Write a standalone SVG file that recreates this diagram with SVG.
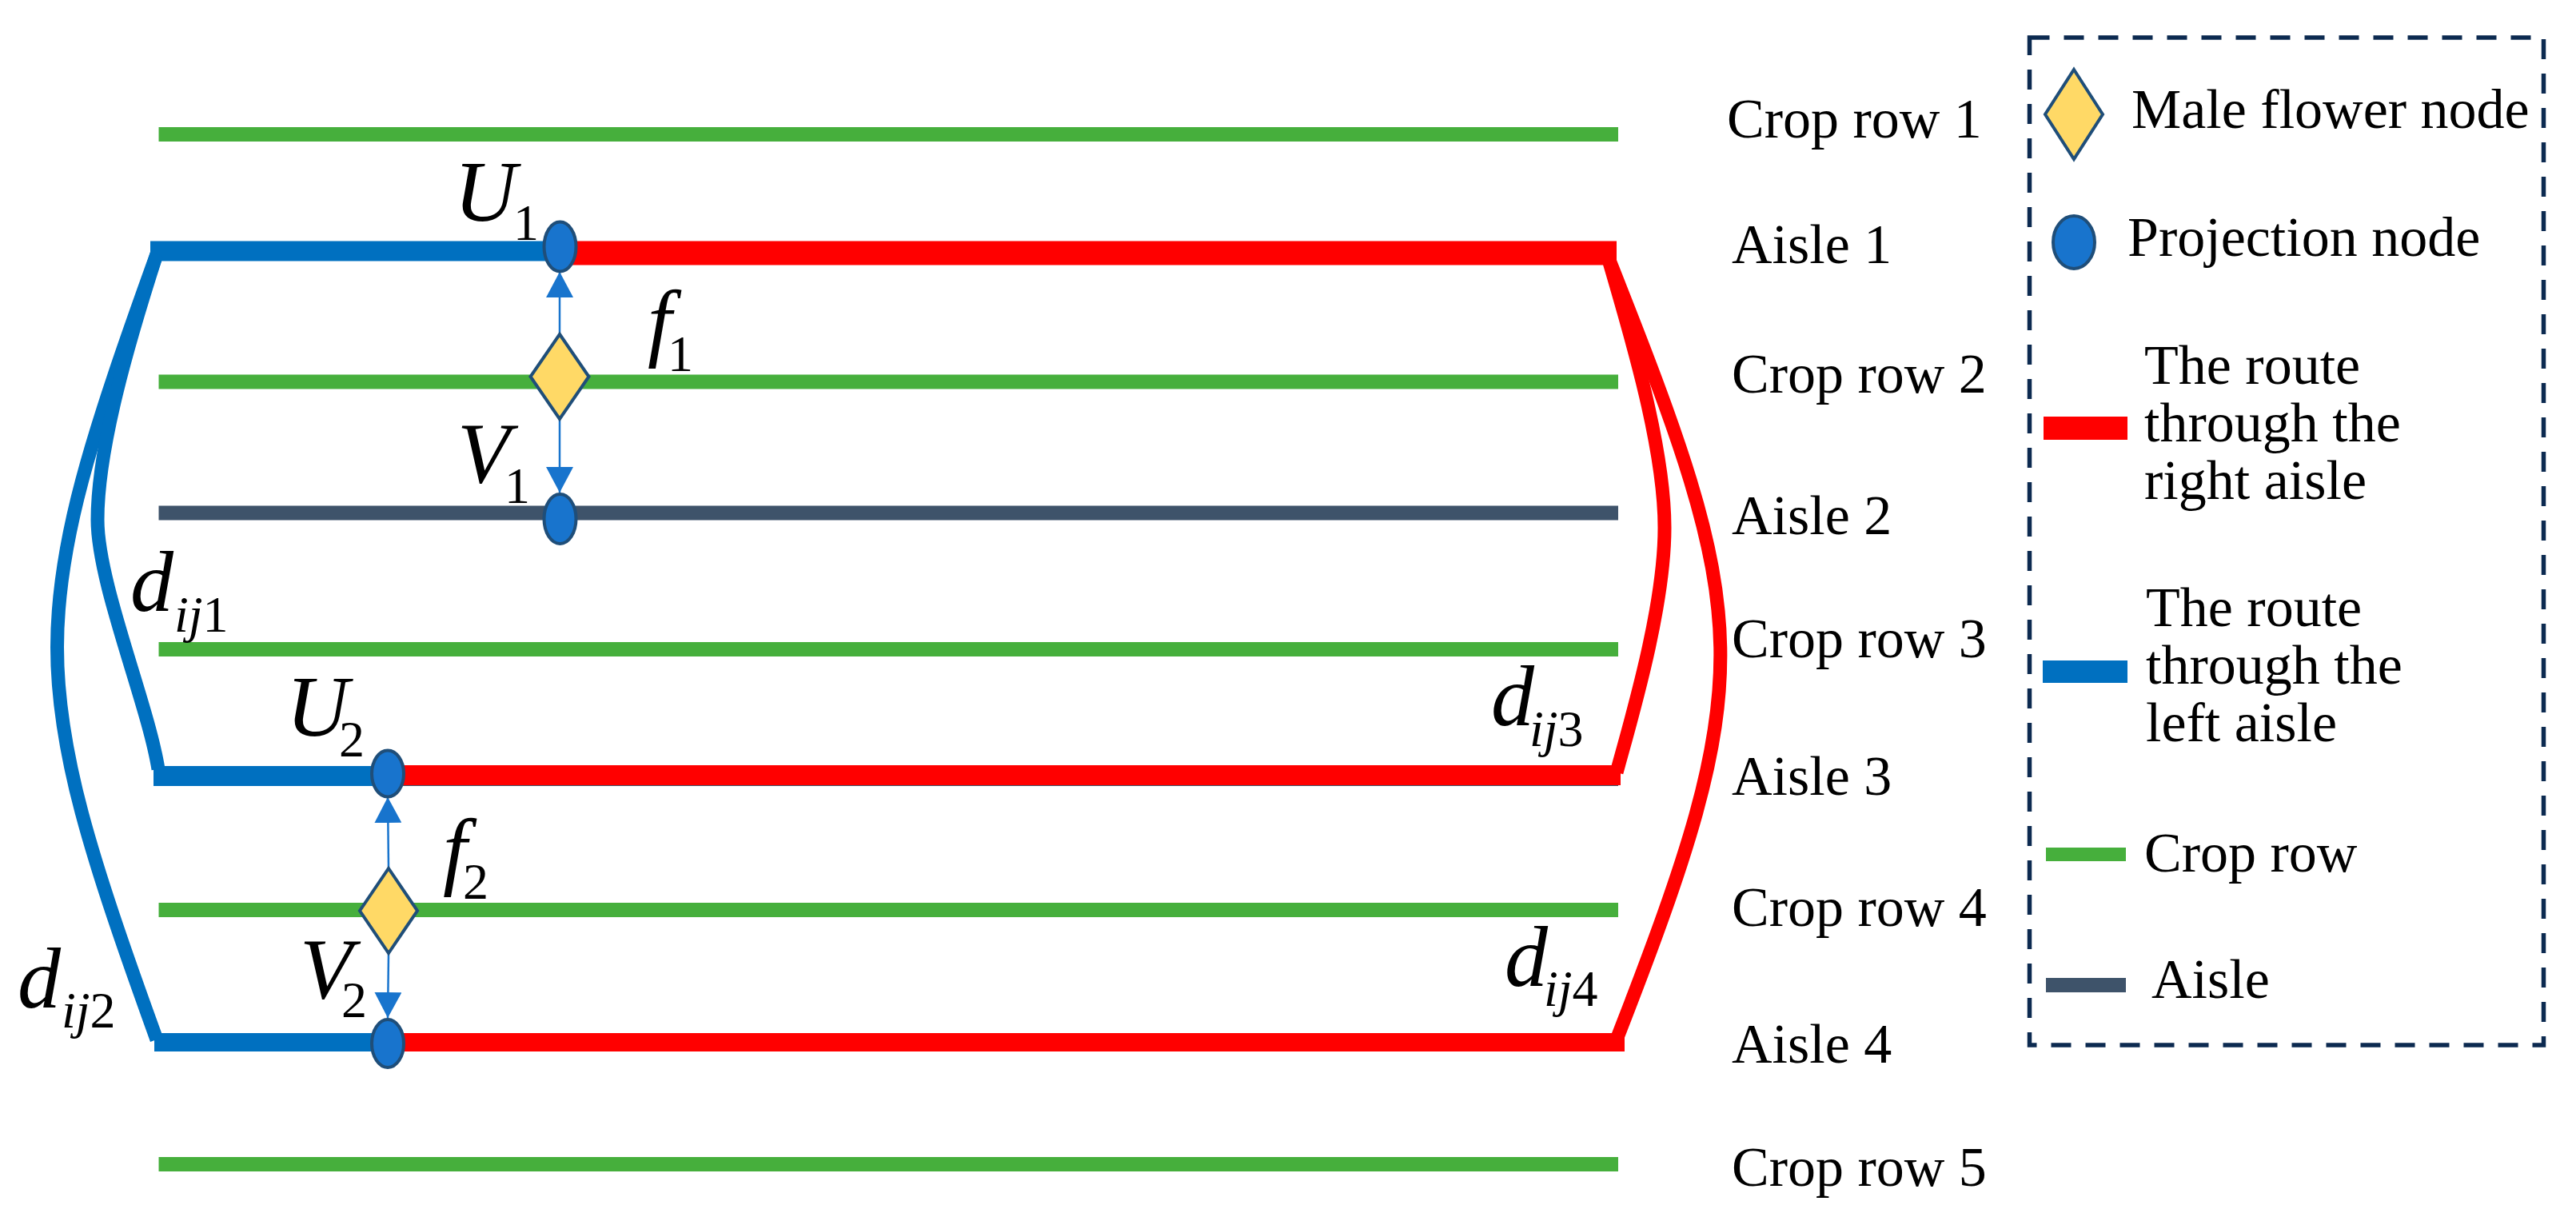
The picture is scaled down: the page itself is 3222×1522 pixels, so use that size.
<svg xmlns="http://www.w3.org/2000/svg" width="3222" height="1522" viewBox="0 0 3222 1522">
<defs>
<style>
.crop{stroke:#46AF3C;stroke-width:18;fill:none}
.aisle{stroke:#3E536A;stroke-width:18;fill:none}
.red{stroke:#FF0000;fill:none}
.blue{stroke:#0070C0;fill:none}
.curve{stroke-width:17;stroke-linejoin:round}
.lbl{font-family:"Liberation Serif","Times New Roman",serif;font-size:70px;fill:#000}
.m{font-family:"Liberation Serif","Times New Roman",serif;font-style:italic;font-size:108px;fill:#000}
.s{font-size:64px;font-style:normal}
.si{font-size:64px;font-style:italic}
.pn{fill:#1874CD;stroke:#1F4E79;stroke-width:4}
.mf{fill:#FFD966;stroke:#1F4E79;stroke-width:4}
.arr{stroke:#1874CD;stroke-width:2.5;fill:none;marker-end:url(#ah)}
</style>
<marker id="ah" viewBox="0 0 32 34" refX="32" refY="17" markerWidth="32" markerHeight="34" markerUnits="userSpaceOnUse" orient="auto">
<path d="M0,0 L32,17 L0,34 Z" fill="#1874CD"/>
</marker>
</defs>
<rect width="3222" height="1522" fill="#FFFFFF"/>

<g id="field">
<line class="crop" x1="198.5" y1="168" x2="2024" y2="168"/>
<line class="crop" x1="198.5" y1="477.5" x2="2024" y2="477.5"/>
<line class="crop" x1="198.5" y1="812" x2="2024" y2="812"/>
<line class="crop" x1="198.5" y1="1138" x2="2024" y2="1138"/>
<line class="crop" x1="198.5" y1="1456" x2="2024" y2="1456"/>
<line class="aisle" x1="198.5" y1="641.5" x2="2024" y2="641.5"/>
<line class="aisle" x1="198.5" y1="974" x2="2024" y2="974"/>
</g>

<g id="connectors">
<line class="blue" stroke-width="25" x1="188" y1="314" x2="700" y2="314"/>
<line class="red" stroke-width="30" x1="700" y1="316.5" x2="2022" y2="316.5"/>
<line class="blue" stroke-width="25" x1="192" y1="970.5" x2="484" y2="970.5"/>
<line class="red" stroke-width="25" x1="484" y1="969.5" x2="2027" y2="969.5"/>
<line class="blue" stroke-width="23" x1="193" y1="1303.5" x2="484" y2="1303.5"/>
<line class="red" stroke-width="23" x1="484" y1="1303.5" x2="2032" y2="1303.5"/>
<path class="blue curve" d="M196,318 C30,778 30,841 196,1300"/>
<path class="blue curve" d="M196,318 C160,430 122,560 122,650 C122,730 185,880 198,962"/>
<path class="red curve" d="M2010,318 C2193,778 2201,841 2022,1300"/>
<path class="red curve" d="M2010,318 C2040,420 2082,560 2082,660 C2082,760 2040,900 2022,966"/>
<line class="arr" x1="700" y1="418" x2="700" y2="340"/>
<line class="arr" x1="700" y1="524" x2="700" y2="616"/>
<line class="arr" x1="486" y1="1086" x2="485" y2="997"/>
<line class="arr" x1="486" y1="1192" x2="485" y2="1273"/>
</g>

<g id="node-U1"><ellipse class="pn" cx="700.5" cy="308.5" rx="20" ry="31"/></g>
<g id="node-f1"><polygon class="mf" points="700,418 736.5,471 700,524 663.5,471"/></g>
<g id="node-V1"><ellipse class="pn" cx="700.5" cy="649" rx="20" ry="31"/></g>
<g id="node-U2"><ellipse class="pn" cx="485" cy="967.5" rx="20" ry="29"/></g>
<g id="node-f2"><polygon class="mf" points="486,1086 522,1139 486,1192 450,1139"/></g>
<g id="node-V2"><ellipse class="pn" cx="485" cy="1305" rx="20" ry="30"/></g>

<g id="math-labels">
<text class="m" x="568" y="276">U<tspan class="s" x="642" y="300">1</tspan></text>
<text class="m" x="810" y="438">f<tspan class="s" x="835" y="464">1</tspan></text>
<text class="m" x="572" y="603">V<tspan class="s" x="631" y="629">1</tspan></text>
<text class="m" x="358" y="920">U<tspan class="s" x="424" y="946">2</tspan></text>
<text class="m" x="554" y="1099">f<tspan class="s" x="579" y="1124">2</tspan></text>
<text class="m" x="375" y="1248">V<tspan class="s" x="427" y="1272">2</tspan></text>
<text class="m" x="163" y="764">d<tspan class="si" x="218" y="790">ij</tspan><tspan class="s">1</tspan></text>
<text class="m" x="22" y="1260">d<tspan class="si" x="77" y="1285">ij</tspan><tspan class="s">2</tspan></text>
<text class="m" x="1865" y="907">d<tspan class="si" x="1913" y="933">ij</tspan><tspan class="s">3</tspan></text>
<text class="m" x="1882" y="1233">d<tspan class="si" x="1931" y="1258">ij</tspan><tspan class="s">4</tspan></text>
</g>

<g id="row-labels">
<text class="lbl" x="2160" y="172">Crop row 1</text>
<text class="lbl" x="2166" y="329">Aisle 1</text>
<text class="lbl" x="2166" y="491">Crop row 2</text>
<text class="lbl" x="2166" y="668">Aisle 2</text>
<text class="lbl" x="2166" y="822">Crop row 3</text>
<text class="lbl" x="2166" y="994">Aisle 3</text>
<text class="lbl" x="2166" y="1158">Crop row 4</text>
<text class="lbl" x="2166" y="1329">Aisle 4</text>
<text class="lbl" x="2166" y="1483">Crop row 5</text>
</g>

<g id="legend">
<rect x="2538.5" y="47" width="643" height="1260" fill="none" stroke="#0C2A50" stroke-width="5.5" stroke-dasharray="25 18"/>
<polygon class="mf" points="2594,87 2630,143 2594,199 2558,143"/>
<text class="lbl" x="2666" y="160">Male flower node</text>
<ellipse class="pn" cx="2594" cy="303" rx="26" ry="33"/>
<text class="lbl" x="2661" y="320">Projection node</text>
<rect x="2556" y="521" width="105" height="29" fill="#FF0000"/>
<text class="lbl" x="2682" y="480">The route</text>
<text class="lbl" x="2682" y="552">through the</text>
<text class="lbl" x="2682" y="624">right aisle</text>
<rect x="2555" y="826" width="106" height="28" fill="#0070C0"/>
<text class="lbl" x="2684" y="783">The route</text>
<text class="lbl" x="2684" y="855">through the</text>
<text class="lbl" x="2684" y="927">left aisle</text>
<rect x="2559" y="1060" width="100" height="17" fill="#46AF3C"/>
<text class="lbl" x="2682" y="1090">Crop row</text>
<rect x="2559" y="1223" width="100" height="18" fill="#3E536A"/>
<text class="lbl" x="2691" y="1248">Aisle</text>
</g>
</svg>
